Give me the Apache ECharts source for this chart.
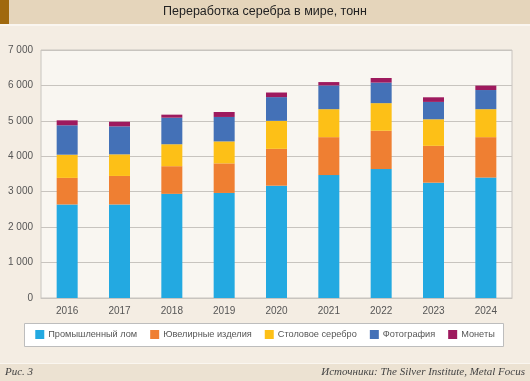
<!DOCTYPE html>
<html><head><meta charset="utf-8">
<script src="https://cdn.jsdelivr.net/npm/echarts@6/dist/echarts.min.js"></script>
<style>html,body{margin:0;padding:0;background:#f4ede3;}#c{width:530px;height:381px;}</style>
</head><body><div id="c"></div>
<script>
const years = ['2016','2017','2018','2019','2020','2021','2022','2023','2024'];
const industrial = [2640, 2640, 2940, 2965, 3170, 3470, 3640, 3255, 3400];
const jewelry    = [750, 805, 780, 835, 1040, 1070, 1080, 1040, 1140];
const silverware = [655, 610, 620, 620, 790, 790, 780, 750, 790];
const photo      = [830, 790, 750, 690, 670, 670, 580, 490, 540];
const coins      = [140, 130, 85, 140, 130, 95, 130, 130, 125];
const seriesNames = ['Промышленный лом','Ювелирные изделия','Столовое серебро','Фотография','Монеты'];
const colors = ['#23a9e1','#ef7f32','#fdc017','#4471b7','#9e1a5e'];
const yTicks = [0,1000,2000,3000,4000,5000,6000,7000];

const chart = echarts.init(document.getElementById('c'));
const dataSets = [industrial, jewelry, silverware, photo, coins];
const fmt = v => v >= 1000 ? String(v).replace(/(\d)(\d{3})$/, '$1 $2') : String(v);
chart.setOption({
  animation: false,
  backgroundColor: '#f4ede3',
  textStyle: {fontFamily: 'Liberation Sans, Arial, sans-serif'},
  graphic: [
    {type:'rect', left:0, top:0, shape:{width:530, height:24}, style:{fill:'#e5d5bb'}, z:-10},
    {type:'rect', left:0, top:0, shape:{width:9, height:24}, style:{fill:'#a0690e'}, z:-9},
    {type:'rect', left:0, top:24, shape:{width:530, height:2}, style:{fill:'#faf6f0'}, z:-9},
    {type:'text', left:'center', top:5, style:{text:'Переработка серебра в мире, тонн', font:'12.5px Liberation Sans, Arial, sans-serif', fill:'#222'}, z:5},
    {type:'rect', left:41, top:50, shape:{width:471, height:248}, style:{fill:'#f9f6f1'}, z:-8},
    {type:'rect', left:24, top:323, shape:{width:479, height:23}, style:{fill:'#ffffff', stroke:'#bdbdbd', lineWidth:1}, z:-7},
    {type:'rect', left:0, top:363, shape:{width:530, height:18}, style:{fill:'#ece2d2'}, z:-10},
    {type:'rect', left:0, top:363, shape:{width:530, height:1}, style:{fill:'#faf6f0'}, z:-9},
    {type:'text', left:5, top:367, style:{text:'Рис. 3', font:'italic 11px Liberation Serif, DejaVu Serif, serif', fill:'#444'}},
    {type:'text', right:5, top:367, style:{text:'Источники: The Silver Institute, Metal Focus', font:'italic 11px Liberation Serif, DejaVu Serif, serif', fill:'#444'}}
  ],
  grid: {left:41, right:18, top:50, bottom:83, containLabel:false, show:true, borderColor:'#c8c4bf', borderWidth:1},
  legend: {
    top:330, left:'center', width:510, padding:0, itemWidth:9, itemHeight:9, itemGap:13, icon:'rect',
    textStyle:{fontSize:9.2, color:'#555', padding:[0,0,0,-1], fontFamily:'Liberation Sans, Arial, sans-serif'},
    data: seriesNames
  },
  xAxis: {
    type:'category', data: years,
    axisLine:{show:true, lineStyle:{color:'#c8c4bf'}}, axisTick:{show:false},
    axisLabel:{color:'#555', fontSize:10, margin:8}
  },
  yAxis: {
    type:'value', min:0, max:7000, interval:1000,
    axisLine:{show:false}, axisTick:{show:false},
    splitLine:{lineStyle:{color:'#c8c4bf'}},
    axisLabel:{color:'#555', fontSize:10, margin:8, formatter: v => yTicks.includes(v) ? fmt(v) : ''}
  },
  series: seriesNames.map((n,i)=>({
    name:n, type:'bar', stack:'total', barWidth:21,
    itemStyle:{color:colors[i]}, data:dataSets[i]
  }))
});
</script></body></html>
